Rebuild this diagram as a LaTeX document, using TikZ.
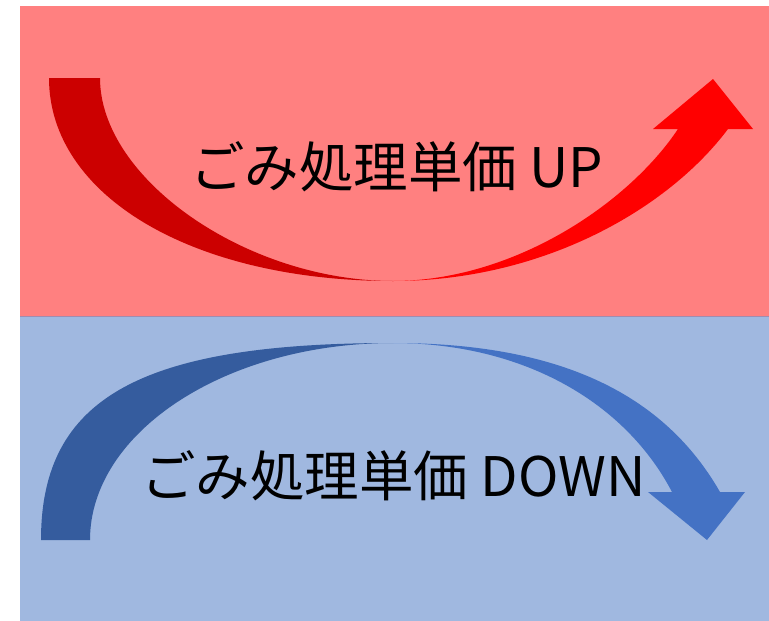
\documentclass[tikz,border=0pt]{standalone}
\usepackage{fontspec}
\newfontfamily\jpfont{Noto Sans CJK JP}
\definecolor{redbg}{HTML}{FF8080}
\definecolor{reddark}{HTML}{CC0000}
\definecolor{redmain}{HTML}{FF0000}
\definecolor{bluebg}{HTML}{A0B8E0}
\definecolor{bluedark}{HTML}{355C9E}
\definecolor{bluemain}{HTML}{4472C4}
\definecolor{sepline}{HTML}{A08CB0}
\tikzset{
  label/.style={inner sep=0pt, font=\jpfont\fontsize{54.5}{60}\selectfont, text=black},
}
\begin{document}
\begin{tikzpicture}[x=1pt,y=-1pt]
\useasboundingbox (0,0) rectangle (769,621);
% panels
\fill[redbg] (20,6) rectangle (769,316);
\fill[bluebg] (20,316) rectangle (769,621);
\draw[sepline, line width=1.5pt] (20,316.5) -- (769,316.5);
% red curved up arrow
\fill[reddark] (49,78) .. controls (49,196) and (193,281) .. (393,281)
  .. controls (247,281) and (100,179) .. (100,78) -- cycle;
\fill[redmain] (393,281) .. controls (543,281) and (668,209) .. (728,129)
  -- (753,129) -- (713,79) -- (653,129) -- (678,129)
  .. controls (628,204) and (513,281) .. (393,281) -- cycle;
% blue curved down arrow
\fill[bluedark] (41,540) .. controls (41,398) and (140,343) .. (393,343)
  .. controls (226,343) and (90,432) .. (90,540) -- cycle;
\fill[bluemain] (393,343) .. controls (563,343) and (665,396) .. (720,492)
  -- (745,492) -- (707,540) -- (648,492) -- (672,492)
  .. controls (625,402) and (523,343) .. (393,343) -- cycle;
% labels
\node[label] (up) at (396.5,167) {ごみ処理単価 UP};
\node[label] (down) at (393.5,476) {ごみ処理単価 DOWN};
\end{tikzpicture}
\end{document}
